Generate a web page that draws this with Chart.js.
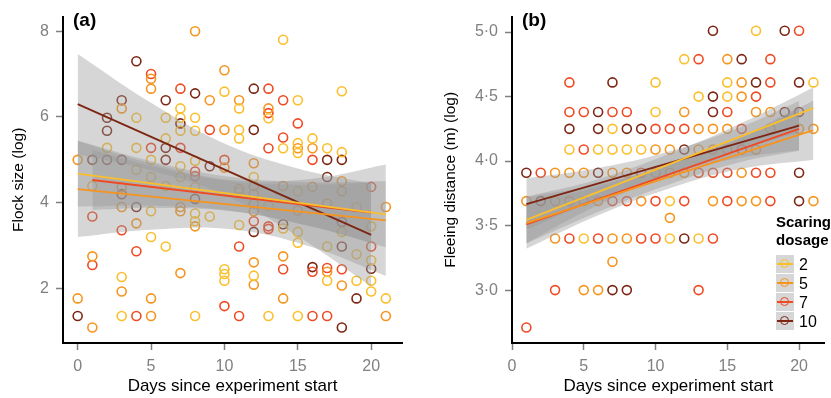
<!DOCTYPE html>
<html>
<head>
<meta charset="utf-8">
<script src="https://cdn.jsdelivr.net/npm/chart.js@4.4.0/dist/chart.umd.min.js"></script>
<style>
  body { margin: 0; background: #fff; width: 831px; height: 398px; overflow: hidden; position: relative;
         font-family: "Liberation Sans", Arial, sans-serif; }
  #wa { position: absolute; left: 0; top: 0; width: 415px; height: 398px; }
  #wb { position: absolute; left: 415px; top: 0; width: 416px; height: 398px; }
  .tag { position: absolute; top: 11px; font-weight: bold; font-size: 19px; line-height: 18px; color: #000; }
  #legend { position: absolute; left: 776px; top: 213px; color: #000; }
  #legend .ltitle { font-weight: bold; font-size: 15px; line-height: 18px; margin-bottom: 6px; }
  .lrow { display: flex; align-items: center; height: 19px; }
  .key { position: relative; width: 18px; height: 18px; background: #d6d6d6; margin-bottom: 1px; }
  .key .ln { position: absolute; left: 1px; right: 1px; top: 8px; height: 1.6px; }
  .key .ci { position: absolute; left: 4px; top: 4px; width: 7px; height: 7px; border-radius: 50%; border: 1.6px solid; }
  .lrow span { font-size: 16px; margin-left: 5px; }
</style>
</head>
<body>
<div id="wa"><canvas id="ca" width="415" height="398"></canvas></div>
<div id="wb"><canvas id="cb" width="416" height="398"></canvas></div>
<div class="tag" style="left:73px">(a)</div>
<div class="tag" style="left:522px">(b)</div>
<div id="legend"><div class="ltitle">Scaring<br>dosage</div><div id="rows"></div></div>
<script>
const FONT = '"Liberation Sans", Arial, sans-serif';

const dosages = ['2', '5', '7', '10'];
const dosageColors = ['#FBBF2C', '#F7941E', '#EF4A23', '#7D2614'];
const xTicks = [0, 5, 10, 15, 20];
const yTicksA = [2, 4, 6, 8];
const yTicksB = [3.0, 3.5, 4.0, 4.5, 5.0];

// (a) flock size (log) per day, one array per dosage
const flockD2 = [[1,4.39],[2,5.28],[3,2.27],[3,1.36],[4,5.98],[4,5.28],[4,4.77],[5,5.0],[5,4.6],[5,3.8],[5,3.2],
  [6,5.98],[6,5.5],[6,4.39],[6,2.98],[7,6.2],[7,5.98],[7,5.68],[7,4.85],[7,4.6],[8,5.98],[8,5.68],[8,4.98],[8,4.36],
  [8,3.75],[8,3.57],[8,1.36],[9,3.68],[10,6.59],[10,2.45],[10,2.34],[10,2.18],[11,6.2],[11,5.7],[11,5.5],[11,4.25],
  [11,3.48],[12,4.6],[12,2.3],[13,5.97],[13,3.93],[13,1.36],[14,7.8],[14,5.27],[14,3.4],[15,6.39],[15,5.39],[15,5.16],
  [15,4.27],[15,3.32],[15,3.07],[15,1.36],[16,5.5],[17,5.27],[17,2.98],[17,2.18],[18,6.6],[18,5.18],[18,3.32],
  [19,3.9],[19,2.8],[19,2.18],[20,3.45],[20,2.66],[20,2.18],[20,1.93],[21,1.77]];
const flockD5 = [[0,5.0],[0,1.77],[1,2.75],[1,1.09],[3,6.2],[3,4.36],[3,3.9],[3,1.93],[4,3.52],[5,6.89],[5,6.66],
  [5,1.77],[5,1.36],[7,3.9],[7,3.8],[7,2.36],[8,8.0],[8,3.45],[9,6.39],[10,7.09],[10,5.7],[10,4.82],[11,6.39],[11,4.32],
  [12,4.92],[12,4.39],[12,4.2],[12,3.98],[12,3.8],[12,2.61],[12,2.09],[13,6.2],[14,4.39],[14,2.75],[14,1.77],[15,5.27],
  [15,3.82],[16,5.27],[16,4.37],[17,3.98],[17,2.39],[18,4.5],[18,4.27],[18,2.07],[21,3.9],[21,1.36]];
const flockD7 = [[1,3.68],[1,2.55],[3,3.36],[4,2.87],[4,1.36],[5,7.0],[5,5.28],[7,6.66],[7,5.28],[8,4.73],[8,4.62],
  [9,5.7],[10,5.0],[10,1.59],[11,2.98],[11,1.36],[12,3.57],[13,6.66],[13,6.09],[13,5.27],[13,3.45],[13,3.39],[14,6.39],
  [14,5.52],[14,2.45],[15,5.85],[16,5.0],[16,2.39],[16,1.36],[17,2.48],[17,1.36],[18,2.45],[20,4.37],[20,2.98]];
const flockD10 = [[0,1.36],[1,5.0],[2,5.98],[2,5.68],[2,5.0],[3,6.39],[3,5.0],[3,4.2],[4,7.3],[4,3.9],[6,6.39],
  [6,5.28],[6,5.0],[7,5.85],[8,6.55],[8,4.09],[9,4.85],[12,6.66],[12,5.7],[12,3.32],[14,3.5],[16,2.5],[17,5.0],
  [17,4.6],[18,5.0],[18,3.55],[18,2.98],[18,1.09],[19,1.77],[20,2.46]];

// (a) fitted lines and confidence bands
const flockLines = [[[0,4.68],[21,3.73]], [[0,4.32],[21,3.59]], [[1,4.53],[20,3.77]], [[0,6.3],[20,3.25]]];
const flockBandDays = [[0,5,10.5,16,21], [0,5,10.5,16,21], [1,5.5,10.5,15.5,20], [0,5,10,15,20]];
const flockBandLo = [[3.91,3.93,3.81,3.44,2.96], [3.20,3.37,3.38,2.96,2.29], [3.83,3.88,3.80,3.48,3.07], [5.13,4.75,4.18,3.22,2.05]];
const flockBandHi = [[5.45,4.97,4.60,4.48,4.50], [5.44,4.92,4.53,4.56,4.89], [5.23,4.82,4.50,4.42,4.47], [7.47,6.33,5.38,4.80,4.45]];

// (b) fleeing distance (log) per day
const fleeD2 = [[17,5.01],[12,4.79],[10,4.61],[15,4.61],[21,4.61],[13,4.50],[15,4.50],[10,4.38],[7,4.25],[4,4.09],
  [6,4.09],[7,4.09],[8,4.09],[9,4.09],[11,3.69],[5,3.40],[11,3.40],[13,3.40]];
const fleeD5 = [[15,4.79],[16,4.61],[16,4.50],[12,4.38],[17,4.38],[18,4.38],[13,4.25],[14,4.25],[15,4.25],[18,4.25],
  [20,4.25],[21,4.25],[10,4.09],[11,4.09],[13,4.09],[14,4.09],[15,4.09],[17,4.09],[3,3.91],[4,3.91],[5,3.91],[7,3.91],
  [8,3.91],[10,3.91],[11,3.91],[12,3.91],[16,3.91],[1,3.69],[3,3.69],[4,3.69],[5,3.69],[6,3.69],[9,3.69],[14,3.69],
  [16,3.69],[17,3.69],[21,3.69],[11,3.56],[3,3.40],[7,3.40],[8,3.40],[7,3.22],[5,3.00],[6,3.00]];
const fleeD7 = [[20,5.01],[13,4.79],[18,4.79],[4,4.61],[18,4.61],[17,4.50],[4,4.38],[5,4.38],[7,4.38],[8,4.38],
  [15,4.38],[10,4.25],[11,4.25],[12,4.25],[16,4.25],[5,4.09],[16,4.09],[2,3.91],[9,3.91],[13,3.91],[14,3.91],[15,3.91],
  [17,3.91],[18,3.91],[7,3.69],[8,3.69],[10,3.69],[12,3.69],[15,3.69],[18,3.69],[4,3.40],[6,3.40],[9,3.40],[10,3.40],
  [14,3.40],[3,3.00],[13,3.00],[1,2.71]];
const fleeD10 = [[14,5.01],[19,5.01],[16,4.79],[7,4.61],[17,4.61],[20,4.61],[14,4.50],[6,4.38],[14,4.38],[19,4.38],
  [20,4.38],[4,4.25],[6,4.25],[8,4.25],[9,4.25],[12,4.09],[1,3.91],[6,3.91],[20,3.91],[2,3.69],[20,3.69],[12,3.40],
  [7,3.00],[8,3.00]];

const fleeLines = [[[1,3.545],[21,4.41]], [[1,3.52],[21,4.24]], [[1,3.51],[20,4.25]], [[1,3.667],[20,4.275]]];
const fleeBandDays = [[1,6,11,16,21], [1,6,11,16,21], [1,6,11,16,20], [1,6,11,16,20]];
const fleeBandLo = [[3.365,3.66,3.898,4.095,4.25], [3.32,3.58,3.79,3.94,4.01], [3.36,3.605,3.82,3.994,4.08], [3.467,3.707,3.897,4.027,4.085]];
const fleeBandHi = [[3.725,3.86,4.058,4.295,4.57], [3.72,3.82,3.97,4.18,4.47], [3.66,3.805,3.98,4.194,4.42], [3.867,3.947,4.077,4.267,4.465]];

function toXY(arr) { return arr.map(p => ({ x: p[0], y: p[1] })); }

function buildDatasets(points, lines, bandDays, bandLo, bandHi) {
  const ds = [];
  // points at the bottom
  points.forEach((arr, i) => {
    ds.push({ data: toXY(arr), showLine: false, pointRadius: 4.5, pointHoverRadius: 4.5,
      pointBorderWidth: 1.6, borderColor: dosageColors[i], backgroundColor: 'rgba(0,0,0,0)', order: 3 });
  });
  // bands: lower edge then upper edge filled to it
  bandDays.forEach((days, i) => {
    ds.push({ data: days.map((d, k) => ({ x: d, y: bandLo[i][k] })), showLine: true, pointRadius: 0,
      borderWidth: 1, borderColor: 'rgba(0,0,0,0)', tension: 0.4, fill: false, order: 2 });
    ds.push({ data: days.map((d, k) => ({ x: d, y: bandHi[i][k] })), showLine: true, pointRadius: 0,
      borderWidth: 1, borderColor: 'rgba(0,0,0,0)', tension: 0.4, fill: '-1',
      backgroundColor: 'rgba(153,153,153,0.4)', order: 2 });
  });
  lines.forEach((arr, i) => {
    ds.push({ data: toXY(arr), showLine: true, pointRadius: 0, borderWidth: 1.8,
      borderColor: dosageColors[i], fill: false, order: 1 });
  });
  return ds;
}

function axisX(min, max) {
  return {
    type: 'linear', min: min, max: max,
    border: { display: true, color: '#000', width: 2 },
    grid: { display: true, drawOnChartArea: false, drawTicks: true, tickLength: 7, tickWidth: 1.5, tickColor: '#808080' },
    ticks: { color: '#808080', font: { size: 16, family: FONT }, padding: 7, maxRotation: 0 },
    afterBuildTicks: s => { s.ticks = xTicks.map(v => ({ value: v })); },
    afterFit: s => { s.height = 55; },
    title: { display: true, text: 'Days since experiment start', color: '#000',
      font: { size: 17, family: FONT }, padding: { top: 0, bottom: 1 } }
  };
}

function axisY(min, max, ticks, fmt, width, title, titlePad) {
  return {
    type: 'linear', min: min, max: max,
    border: { display: true, color: '#000', width: 2 },
    grid: { display: true, drawOnChartArea: false, drawTicks: true, tickLength: 7, tickWidth: 1.5, tickColor: '#808080' },
    ticks: { color: '#808080', font: { size: 16, family: FONT }, padding: 7, callback: fmt },
    afterBuildTicks: s => { s.ticks = ticks.map(v => ({ value: v })); },
    afterFit: s => { s.width = width; },
    title: { display: true, text: title, color: '#000', font: { size: 15.5, family: FONT },
      padding: { top: titlePad, bottom: 0 } }
  };
}

const common = {
  responsive: false, animation: false,
  plugins: { legend: { display: false }, tooltip: { enabled: false } },
  events: []
};

new Chart(document.getElementById('ca'), {
  type: 'scatter',
  data: { datasets: buildDatasets([flockD2, flockD5, flockD7, flockD10], flockLines, flockBandDays, flockBandLo, flockBandHi) },
  options: Object.assign({}, common, {
    layout: { padding: { top: 8, right: 13, left: 0, bottom: 0 } },
    scales: {
      x: axisX(-1, 22.1),
      y: axisY(0.73, 8.34, yTicksA, v => String(v), 63, 'Flock size (log)', 9)
    }
  })
});

new Chart(document.getElementById('cb'), {
  type: 'scatter',
  data: { datasets: buildDatasets([fleeD2, fleeD5, fleeD7, fleeD10], fleeLines, fleeBandDays, fleeBandLo, fleeBandHi) },
  options: Object.assign({}, common, {
    layout: { padding: { top: 8, right: 0, left: 0, bottom: 0 } },
    scales: {
      x: axisX(0, 21.8),
      y: axisY(2.59, 5.12, yTicksB, v => v.toFixed(1).replace('.', '\u00b7'), 97, 'Fleeing distance (m) (log)', 26)
    }
  })
});

// legend
const rows = document.getElementById('rows');
dosages.forEach((d, i) => {
  const row = document.createElement('div');
  row.className = 'lrow';
  row.innerHTML = '<div class="key"><div class="ln" style="background:' + dosageColors[i] + '"></div>' +
    '<div class="ci" style="border-color:' + dosageColors[i] + '"></div></div><span>' + d + '</span>';
  rows.appendChild(row);
});
</script>
</body>
</html>
